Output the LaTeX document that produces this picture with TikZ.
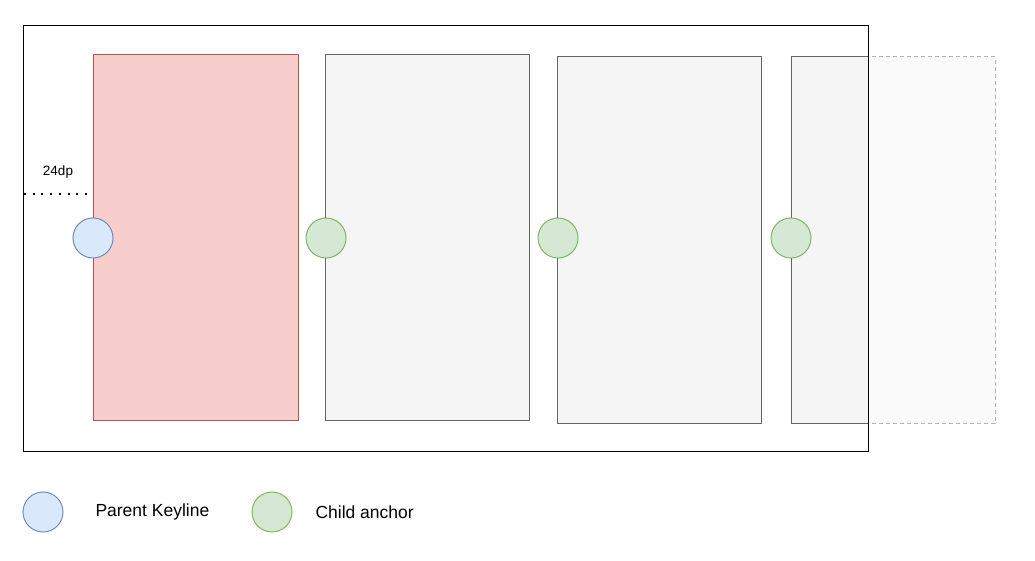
\documentclass[tikz,border=0pt]{standalone}
\usepackage{fontspec}
\setmainfont{Liberation Sans}
\usepackage{xcolor}
\definecolor{keyfill}{HTML}{DAE8FC}
\definecolor{keydraw}{HTML}{6C8EBF}
\definecolor{anchorfill}{HTML}{D5E8D4}
\definecolor{anchordraw}{HTML}{82B366}
\definecolor{cardfill}{HTML}{F5F5F5}
\definecolor{carddraw}{HTML}{666666}
\definecolor{redfill}{HTML}{F8CECC}
\definecolor{reddraw}{HTML}{B85450}
\definecolor{ghostfill}{HTML}{FAFAFA}
\definecolor{ghostdraw}{HTML}{B3B3B3}

\begin{document}
\begin{tikzpicture}[x=1pt,y=1pt,line width=1pt,
    keyline/.style={circle,draw=keydraw,fill=keyfill,minimum size=40pt,inner sep=0pt},
    childanchor/.style={circle,draw=anchordraw,fill=anchorfill,minimum size=40pt,inner sep=0pt},
    legendtext/.style={anchor=west,inner sep=0pt,font=\fontsize{17.5}{20}\selectfont}]
        \useasboundingbox (0,0) rectangle (1035,561);

        % Ghost card running past the container
        \draw[ghostdraw,fill=ghostfill,dash pattern=on 4pt off 3pt] (791,137) rectangle (995,504);

        % Container
        \draw[fill=white] (23,109) rectangle (868,535);

        % Cards
        \draw[reddraw,fill=redfill] (93,140) rectangle (298,506);
        \draw[carddraw,fill=cardfill] (325,140) rectangle (529,506);
        \draw[carddraw,fill=cardfill] (557,137) rectangle (761,504);
        \fill[cardfill] (791,137) rectangle (868,504);
        \draw[carddraw] (868,504) -- (791,504) -- (791,137) -- (868,137);
        \draw (868,109) -- (868,535);

        % Keyline offset
        \coordinate (edge) at (24,367);
        \coordinate (keyedge) at (93,367);
        \draw[line width=2pt,dash pattern=on 2pt off 6.7pt] (edge) -- (keyedge);
        \node[font=\fontsize{13.5}{16}\selectfont] (offset) at (58,389) {24dp};

        % Anchors
        \node[keyline] (parent) at (93,323) {};
        \node[childanchor] (child1) at (326,323) {};
        \node[childanchor] (child2) at (558,323) {};
        \node[childanchor] (child3) at (791,323) {};

        % Legend
        \node[keyline] (legparent) at (43,49) {};
        \node[legendtext] (legparenttext) at (95,49) {Parent Keyline};
        \node[childanchor] (legchild) at (272,49) {};
        \node[legendtext] (legchildtext) at (315,49) {Child anchor};
    \end{tikzpicture}
\end{document}
